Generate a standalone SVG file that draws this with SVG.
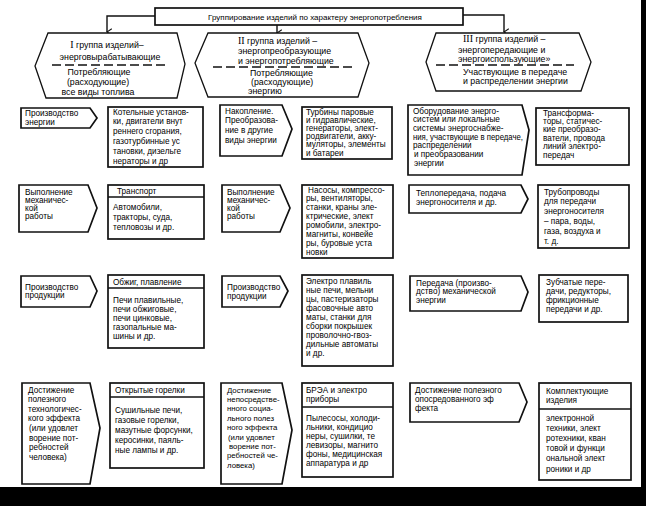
<svg xmlns="http://www.w3.org/2000/svg" width="646" height="506" viewBox="0 0 646 506">
<defs>
<style>
.t{font-family:"Liberation Sans",Arial,sans-serif;font-size:8.2px;fill:#000}
.s{font-size:7.8px}
.h{font-family:"Liberation Sans",Arial,sans-serif;font-size:8.8px;fill:#000}
.ti{font-family:"Liberation Sans",Arial,sans-serif;font-size:8px;fill:#000}
.rn{font-family:"Liberation Serif","Times New Roman",serif;font-size:10px}
.bx{fill:#fff;stroke:#111;stroke-width:1.7}
.hx{fill:#fff;stroke:#111;stroke-width:1.3}
.dash{stroke:#111;stroke-width:1.4;stroke-dasharray:9 4;fill:none}
.ln{stroke:#111;stroke-width:1.4;fill:none}
</style>
<marker id="ar" viewBox="0 0 10 10" refX="5" refY="9" markerWidth="8" markerHeight="8" orient="auto-start-reverse" markerUnits="userSpaceOnUse">
<path d="M1,3 L5,9 L9,3" fill="none" stroke="#111" stroke-width="1.3"/>
</marker>
</defs>
<rect width="646" height="506" fill="#fff"/>

<g id="connectors">
<path class="ln" d="M155,16 H107 V32" marker-end="url(#ar)"/>
<path class="ln" d="M277,25 V33" marker-end="url(#ar)"/>
<path class="ln" d="M463,15 H504 V32" marker-end="url(#ar)"/>
</g>

<g id="title">
<rect class="bx" x="155" y="8" width="308" height="17"/>
<text class="ti" x="315" y="19.5" text-anchor="middle">Группирование изделий по характеру энергопотребления</text>
</g>

<g id="group1">
<path class="hx" d="M48,33 H177 L185,64 L177,98 H46 L35,66 Z"/>
<line class="dash" x1="52" y1="65" x2="165" y2="65"/>
<text class="h" text-anchor="middle"><tspan x="107" y="47.5"><tspan class="rn">I</tspan> группа изделий–</tspan><tspan x="110" y="59.5">энерговырабатывающие</tspan></text>
<text class="h" text-anchor="middle"><tspan x="99" y="74.5">Потребляющие</tspan><tspan x="98" y="84.5">(расходующие)</tspan><tspan x="98" y="94.5">все виды топлива</tspan></text>
</g>

<g id="group2">
<path class="hx" d="M208,33 H358 L369,63 L358,97 H208 L195,63 Z"/>
<line class="dash" x1="213" y1="67" x2="354" y2="67"/>
<text class="h"><tspan x="238" y="44"><tspan class="rn">II</tspan> группа изделий –</tspan><tspan x="238" y="54">энергопреобразующие</tspan><tspan x="238" y="63.5">и энергопотребляющие</tspan></text>
<text class="h"><tspan x="250" y="75.5">Потребляющие</tspan><tspan x="251" y="84.5">(расходующие)</tspan><tspan x="248" y="93.5">энергию</tspan></text>
</g>

<g id="group3">
<path class="hx" d="M436,33 H579 L591,62 L581,91 H436 L426,62 Z"/>
<line class="dash" x1="436" y1="65" x2="574" y2="65"/>
<text class="h"><tspan x="463" y="41.5"><tspan class="rn">III</tspan> группа изделий –</tspan><tspan x="458" y="52.5">энергопередающие и</tspan><tspan x="458" y="61.5">энергоиспользующие»</tspan></text>
<text class="h"><tspan x="463" y="74.5">Участвующие в передаче</tspan><tspan x="463" y="83.5">и распределении энергии</tspan></text>
</g>

<!-- Row 1 -->
<g id="p1">
<path class="bx" d="M21,108 H90 L97,118 L90,128 H21 Z"/>
<text class="t"><tspan x="25" y="116">Производство</tspan><tspan x="25" y="125">энергии</tspan></text>
</g>
<g id="b1">
<rect class="bx" x="108" y="107" width="95" height="60"/>
<text class="t"><tspan x="113" y="114.5">Котельные установ-</tspan><tspan x="113" y="124.3">ки, двигатели внут</tspan><tspan x="113" y="134.1">реннего сгорания,</tspan><tspan x="113" y="143.9">газотурбинные ус</tspan><tspan x="113" y="153.7">тановки, дизельге</tspan><tspan x="113" y="163.5">нераторы и др</tspan></text>
</g>
<g id="p2">
<path class="bx" d="M220,105 H282 L292,129 L282,156 H220 Z"/>
<text class="t"><tspan x="225" y="113.5">Накопление.</tspan><tspan x="225" y="123.2">Преобразова-</tspan><tspan x="225" y="132.9">ние в другие</tspan><tspan x="225" y="142.6">виды энергии</tspan></text>
</g>
<g id="b2">
<rect class="bx" x="302" y="107" width="90" height="52"/>
<text class="t"><tspan x="306" y="114.5">Турбины паровые</tspan><tspan x="306" y="122.7">и гидравлические,</tspan><tspan x="306" y="130.9">генераторы, элект-</tspan><tspan x="306" y="139.1">родвигатели, акку-</tspan><tspan x="306" y="147.3">муляторы, элементы</tspan><tspan x="306" y="155.5">и батареи</tspan></text>
</g>
<g id="p3">
<path class="bx" d="M408,105 H522 L529,130 L522,175 H408 Z"/>
<text class="t"><tspan x="413" y="113.5">Оборудование энерго-</tspan><tspan x="413" y="122.2">систем или локальные</tspan><tspan x="413" y="130.9">системы энергоснабже-</tspan><tspan x="413" y="139.6" textLength="110" lengthAdjust="spacingAndGlyphs">ния, участвующие в передаче,</tspan><tspan x="413" y="148.3">распределении</tspan><tspan x="414" y="157">и преобразовании</tspan><tspan x="414" y="165.7">энергии</tspan></text>
</g>
<g id="b3">
<rect class="bx" x="536" y="108" width="93" height="57"/>
<text class="t"><tspan x="543" y="115.5">Трансформа-</tspan><tspan x="543" y="123.9">торы, статичес-</tspan><tspan x="543" y="132.3">кие преобразо-</tspan><tspan x="543" y="140.7">ватели, провода</tspan><tspan x="543" y="149.1">линий электро-</tspan><tspan x="543" y="157.5">передач</tspan></text>
</g>

<!-- Row 2 -->
<g id="p4">
<path class="bx" d="M19,185 H88 L97,208 L88,232 H19 Z"/>
<text class="t"><tspan x="25" y="194.5">Выполнение</tspan><tspan x="25" y="202.8">механичес-</tspan><tspan x="25" y="211.1">кой</tspan><tspan x="25" y="219.4">работы</tspan></text>
</g>
<g id="b4">
<rect class="bx" x="108" y="185" width="96" height="54"/>
<line class="ln" x1="108" y1="197" x2="204" y2="197"/>
<text class="t" x="117" y="194">Транспорт</text>
<text class="t"><tspan x="113" y="209.5">Автомобили,</tspan><tspan x="113" y="219.5">тракторы, суда,</tspan><tspan x="113" y="229.5">тепловозы и др.</tspan></text>
</g>
<g id="p5">
<path class="bx" d="M222,185 H280 L290,208 L280,232 H222 Z"/>
<text class="t"><tspan x="227" y="194.5">Выполнение</tspan><tspan x="227" y="202.8">механичес-</tspan><tspan x="227" y="211.1">кой</tspan><tspan x="227" y="219.4">работы</tspan></text>
</g>
<g id="b5">
<rect class="bx" x="302" y="185" width="91" height="73"/>
<text class="t"><tspan x="308" y="192.5">Насосы, компрессо-</tspan><tspan x="306" y="201.4">ры, вентиляторы,</tspan><tspan x="306" y="210.3">станки, краны эле-</tspan><tspan x="306" y="219.2">ктрические, элект</tspan><tspan x="306" y="228.1">ромобили, электро-</tspan><tspan x="306" y="237">магниты, конвейе</tspan><tspan x="306" y="245.9">ры, буровые уста</tspan><tspan x="306" y="254.8">новки</tspan></text>
</g>
<g id="p6">
<path class="bx" d="M409,185 H521 L528,199 L521,213 H409 Z"/>
<text class="t"><tspan x="416" y="195.5">Теплопередача, подача</tspan><tspan x="416" y="204.5">энергоносителя и др.</tspan></text>
</g>
<g id="b6">
<rect class="bx" x="538" y="185" width="91" height="63"/>
<text class="t"><tspan x="544" y="194.5">Трубопроводы</tspan><tspan x="544" y="204.3">для передачи</tspan><tspan x="544" y="214.1">энергоносителя</tspan><tspan x="544" y="223.9">– пара, воды,</tspan><tspan x="544" y="233.7">газа, воздуха и</tspan><tspan x="544" y="243.5">т. д.</tspan></text>
</g>

<!-- Row 3 -->
<g id="p7">
<path class="bx" d="M21,276 H90 L97,291 L90,307 H21 Z"/>
<text class="t"><tspan x="25" y="289.5">Производство</tspan><tspan x="25" y="298">продукции</tspan></text>
</g>
<g id="b7">
<rect class="bx" x="108" y="275" width="96" height="73"/>
<line class="ln" x1="108" y1="288" x2="204" y2="288"/>
<text class="t" x="113" y="285">Обжиг, плавление</text>
<text class="t"><tspan x="113" y="302.5">Печи плавильные,</tspan><tspan x="113" y="311.5">печи обжиговые,</tspan><tspan x="113" y="320.5">печи цинковые,</tspan><tspan x="113" y="329.5">газопальные ма-</tspan><tspan x="113" y="338.5">шины и др.</tspan></text>
</g>
<g id="p8">
<path class="bx" d="M222,276 H280 L288,291 L280,307 H222 Z"/>
<text class="t"><tspan x="227" y="289.5">Производство</tspan><tspan x="227" y="298.5">продукции</tspan></text>
</g>
<g id="b8">
<rect class="bx" x="302" y="275" width="91" height="91"/>
<text class="t"><tspan x="306" y="283.5">Электро плавиль</tspan><tspan x="306" y="292.6">ные печи, мельни</tspan><tspan x="306" y="301.7">цы, пастеризаторы</tspan><tspan x="306" y="310.8">фасовочные авто</tspan><tspan x="306" y="319.9">маты, станки для</tspan><tspan x="306" y="329">сборки покрышек</tspan><tspan x="306" y="338.1">проволочно-гвоз-</tspan><tspan x="306" y="347.2">дильные автоматы</tspan><tspan x="306" y="356.3">и др.</tspan></text>
</g>
<g id="p9">
<path class="bx" d="M410,276 H521 L528,292 L521,311 H410 Z"/>
<text class="t"><tspan x="416" y="285.5">Передача (произво-</tspan><tspan x="416" y="294">дство) механической</tspan><tspan x="416" y="302.5">энергии</tspan></text>
</g>
<g id="b9">
<rect class="bx" x="539" y="275" width="89" height="47"/>
<text class="t"><tspan x="546" y="284.5">Зубчатые пере-</tspan><tspan x="546" y="293.5">дачи, редукторы,</tspan><tspan x="546" y="302.5">фрикционные</tspan><tspan x="546" y="311.5">передачи и др.</tspan></text>
</g>

<!-- Row 4 -->
<g id="p10">
<path class="bx" d="M22,383 H90 L100,428 L90,484 H22 Z"/>
<text class="t"><tspan x="28" y="392.5">Достижение</tspan><tspan x="28" y="402.1">полезного</tspan><tspan x="28" y="411.7">технологичес-</tspan><tspan x="28" y="421.3">кого эффекта</tspan><tspan x="29" y="430.9">(или удовлет</tspan><tspan x="29" y="440.5">ворение пот-</tspan><tspan x="29" y="450.1">ребностей</tspan><tspan x="29" y="459.7">человека)</tspan></text>
</g>
<g id="b10">
<rect class="bx" x="110" y="383" width="94" height="85"/>
<line class="ln" x1="110" y1="397" x2="204" y2="397"/>
<text class="t" x="115" y="392.5">Открытые горелки</text>
<text class="t"><tspan x="115" y="412.5">Сушильные печи,</tspan><tspan x="115" y="422.5">газовые горелки,</tspan><tspan x="115" y="432.5">мазутные форсунки,</tspan><tspan x="115" y="442.5">керосинки, паяль-</tspan><tspan x="115" y="452.5">ные лампы и др.</tspan></text>
</g>
<g id="p11">
<path class="bx" d="M221,383 H282 L292,430 L282,484 H221 Z"/>
<text class="t s"><tspan x="227" y="392.5">Достижение</tspan><tspan x="227" y="401.9">непосредстве-</tspan><tspan x="227" y="411.3">нного социа-</tspan><tspan x="227" y="420.7">льного полез</tspan><tspan x="227" y="430.1">ного эффекта</tspan><tspan x="228" y="439.5">(или удовлет</tspan><tspan x="229" y="448.9">ворение пот-</tspan><tspan x="227" y="458.3">ребностей че-</tspan><tspan x="227" y="467.7">ловека)</tspan></text>
</g>
<g id="b11">
<rect class="bx" x="302" y="383" width="91" height="94"/>
<line class="ln" x1="302" y1="407" x2="393" y2="407"/>
<text class="t"><tspan x="306" y="392.5">БРЭА и электро</tspan><tspan x="306" y="401.5">приборы</tspan></text>
<text class="t"><tspan x="306" y="420.5">Пылесосы, холоди-</tspan><tspan x="306" y="429.5">льники, кондицио</tspan><tspan x="306" y="438.5">неры, сушилки, те</tspan><tspan x="306" y="447.5">левизоры, магнито</tspan><tspan x="306" y="456.5">фоны, медицинская</tspan><tspan x="306" y="465.5">аппаратура и др</tspan></text>
</g>
<g id="p12">
<path class="bx" d="M410,383 H519 L527,402 L519,422 H410 Z"/>
<text class="t"><tspan x="415" y="392.5">Достижение полезного</tspan><tspan x="415" y="401.5">опосредованного эф</tspan><tspan x="415" y="410.5">фекта</tspan></text>
</g>
<g id="b12">
<rect class="bx" x="539" y="383" width="92" height="97"/>
<line class="ln" x1="539" y1="409" x2="631" y2="409"/>
<text class="t"><tspan x="546" y="393.5">Комплектующие</tspan><tspan x="546" y="402.5">изделия</tspan></text>
<text class="t"><tspan x="546" y="420.5">электронной</tspan><tspan x="546" y="430.7">техники, элект</tspan><tspan x="546" y="440.9">ротехники, кван</tspan><tspan x="546" y="451.1">товой и функци</tspan><tspan x="546" y="461.3">ональной элект</tspan><tspan x="546" y="471.5">роники и др</tspan></text>
</g>

<rect x="641" y="0" width="5" height="506" fill="#000"/>
<rect x="0" y="487" width="646" height="19" fill="#000"/>
</svg>
